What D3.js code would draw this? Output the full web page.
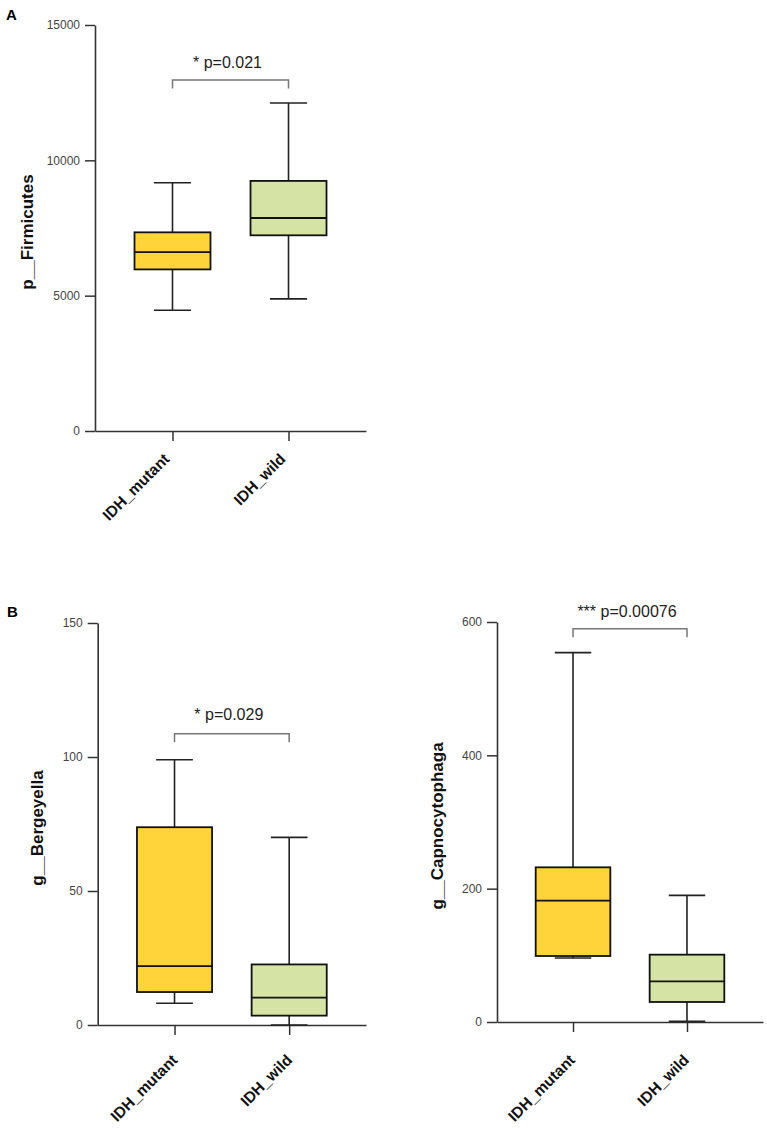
<!DOCTYPE html>
<html>
<head>
<meta charset="utf-8">
<script src="https://cdn.jsdelivr.net/npm/d3@7"></script>
<style>
  html, body { margin: 0; padding: 0; background: #fff; }
  svg { display: block; font-family: "Liberation Sans", Arial, sans-serif; }
</style>
</head>
<body>
<svg id="chart" width="767" height="1128"></svg>
<script>
// ---------------- data ----------------
const categories = ["IDH_mutant", "IDH_wild"];

// five-number summaries: [min, q1, median, q3, max]
const firmicutesMutant = [4460, 5970, 6610, 7340, 9170];
const firmicutesWild   = [4880, 7230, 7870, 9240, 12120];
const bergeyellaMutant = [8.1, 12.3, 22.0, 73.8, 99.0];
const bergeyellaWild   = [0.0, 3.5, 10.2, 22.6, 70.0];
const capnoMutant      = [96, 99, 182, 232, 554];
const capnoWild        = [1, 30, 61, 101, 190];

const firmicutesTicks = [0, 5000, 10000, 15000];
const bergeyellaTicks = [0, 50, 100, 150];
const capnoTicks      = [0, 200, 400, 600];

const pLabels = ["* p=0.021", "* p=0.029", "*** p=0.00076"];
const yTitles = ["p__Firmicutes", "g__Bergeyella", "g__Capnocytophaga"];
const panelLetters = ["A", "B"];

const boxColors = ["#FED43A", "#D5E4A4"];

// ---------------- drawing ----------------
const svg = d3.select("#chart");

function drawPanel(cfg) {
  const g = svg.append("g");
  const y = d3.scaleLinear().domain(cfg.domain).range([cfg.yBottom, cfg.yTop]);
  const x = d3.scalePoint().domain(categories).range([cfg.x0, cfg.x1]).padding(cfg.pad);
  const step = x.step();
  const boxW = step * 0.655;
  const capW = step * 0.32;

  // y axis
  const yAxis = g.append("g")
    .attr("transform", `translate(${cfg.x0},0)`)
    .call(d3.axisLeft(y).tickValues(cfg.ticks).tickSize(10).tickSizeOuter(0).tickPadding(5).tickFormat(d3.format("d")));
  yAxis.select(".domain").attr("stroke", "#333").attr("stroke-width", 1.6);
  yAxis.selectAll(".tick line").attr("stroke", "#333").attr("stroke-width", 1.5);
  yAxis.selectAll(".tick text").attr("font-size", 12).attr("fill", "#444")
    .attr("font-family", "Liberation Sans, Arial, sans-serif");

  // x axis
  const xAxis = g.append("g")
    .attr("transform", `translate(0,${cfg.yBottom})`)
    .call(d3.axisBottom(x).tickSize(10).tickSizeOuter(0).tickFormat(""));
  xAxis.select(".domain").attr("stroke", "#333").attr("stroke-width", 1.6);
  xAxis.selectAll(".tick line").attr("stroke", "#333").attr("stroke-width", 1.5);

  // category labels
  g.selectAll("text.cat").data(categories).join("text")
    .attr("class", "cat")
    .attr("transform", d => `translate(${x(d) + cfg.labDx},${cfg.yBottom + cfg.labDy}) rotate(-45)`)
    .attr("text-anchor", "end")
    .attr("font-size", 15.5).attr("font-weight", "bold").attr("fill", "#111")
    .text(d => d);

  // boxes
  const stats = cfg.stats;
  const bg = g.selectAll("g.box").data(categories).join("g").attr("class", "box");
  bg.each(function(cat, i) {
    const s = stats[i];
    const cx = x(cat);
    const sel = d3.select(this);
    // whiskers
    sel.append("line").attr("x1", cx).attr("x2", cx).attr("y1", y(s[4])).attr("y2", y(s[3]))
      .attr("stroke", "#222").attr("stroke-width", 1.6);
    sel.append("line").attr("x1", cx).attr("x2", cx).attr("y1", y(s[1])).attr("y2", y(s[0]))
      .attr("stroke", "#222").attr("stroke-width", 1.6);
    sel.append("line").attr("x1", cx - capW / 2).attr("x2", cx + capW / 2).attr("y1", y(s[4])).attr("y2", y(s[4]))
      .attr("stroke", "#222").attr("stroke-width", 1.6);
    sel.append("line").attr("x1", cx - capW / 2).attr("x2", cx + capW / 2).attr("y1", y(s[0])).attr("y2", y(s[0]))
      .attr("stroke", "#222").attr("stroke-width", 1.6);
    // box
    sel.append("rect").attr("x", cx - boxW / 2).attr("width", boxW)
      .attr("y", y(s[3])).attr("height", y(s[1]) - y(s[3]))
      .attr("fill", boxColors[i]).attr("stroke", "#111").attr("stroke-width", 1.8);
    // median
    sel.append("line").attr("x1", cx - boxW / 2).attr("x2", cx + boxW / 2).attr("y1", y(s[2])).attr("y2", y(s[2]))
      .attr("stroke", "#111").attr("stroke-width", 1.8);
  });

  // significance bracket
  const bx1 = x(categories[0]), bx2 = x(categories[1]);
  const by = y(cfg.bracket);
  g.append("path")
    .attr("d", `M${bx1},${by + 8.5}V${by}H${bx2}V${by + 8.5}`)
    .attr("fill", "none").attr("stroke", "#777").attr("stroke-width", 1.5);
  g.append("text")
    .attr("x", (bx1 + bx2) / 2 - 3).attr("y", by - cfg.pGap)
    .attr("text-anchor", "middle").attr("font-size", 16).attr("fill", "#222")
    .text(cfg.pLabel);

  // y title
  g.append("text")
    .attr("transform", `translate(${cfg.titleX},${(cfg.yTop + cfg.yBottom) / 2 + 4}) rotate(-90)`)
    .attr("text-anchor", "middle").attr("dy", "0.35em")
    .attr("font-size", 17).attr("font-weight", "bold").attr("fill", "#111")
    .text(cfg.title);
}

drawPanel({ x0: 95, x1: 366, yTop: 25, yBottom: 431, domain: [0, 15000], pad: 0.668,
  ticks: firmicutesTicks, stats: [firmicutesMutant, firmicutesWild], bracket: 12970,
  pLabel: pLabels[0], pGap: 12, title: yTitles[0], titleX: 27, labDx: -2, labDy: 29 });

drawPanel({ x0: 97.7, x1: 366, yTop: 623, yBottom: 1025, domain: [0, 150], pad: 0.67,
  ticks: bergeyellaTicks, stats: [bergeyellaMutant, bergeyellaWild], bracket: 108.7,
  pLabel: pLabels[1], pGap: 13.5, title: yTitles[1], titleX: 37, labDx: 4, labDy: 36 });

drawPanel({ x0: 497, x1: 763, yTop: 622, yBottom: 1022, domain: [0, 600], pad: 0.667,
  ticks: capnoTicks, stats: [capnoMutant, capnoWild], bracket: 590,
  pLabel: pLabels[2], pGap: 12, title: yTitles[2], titleX: 437, labDx: 3, labDy: 39 });

// panel letters
svg.append("text").attr("x", 6).attr("y", 20).attr("font-size", 15).attr("font-weight", "bold").text(panelLetters[0]);
svg.append("text").attr("x", 7).attr("y", 617).attr("font-size", 15).attr("font-weight", "bold").text(panelLetters[1]);
</script>
</body>
</html>
